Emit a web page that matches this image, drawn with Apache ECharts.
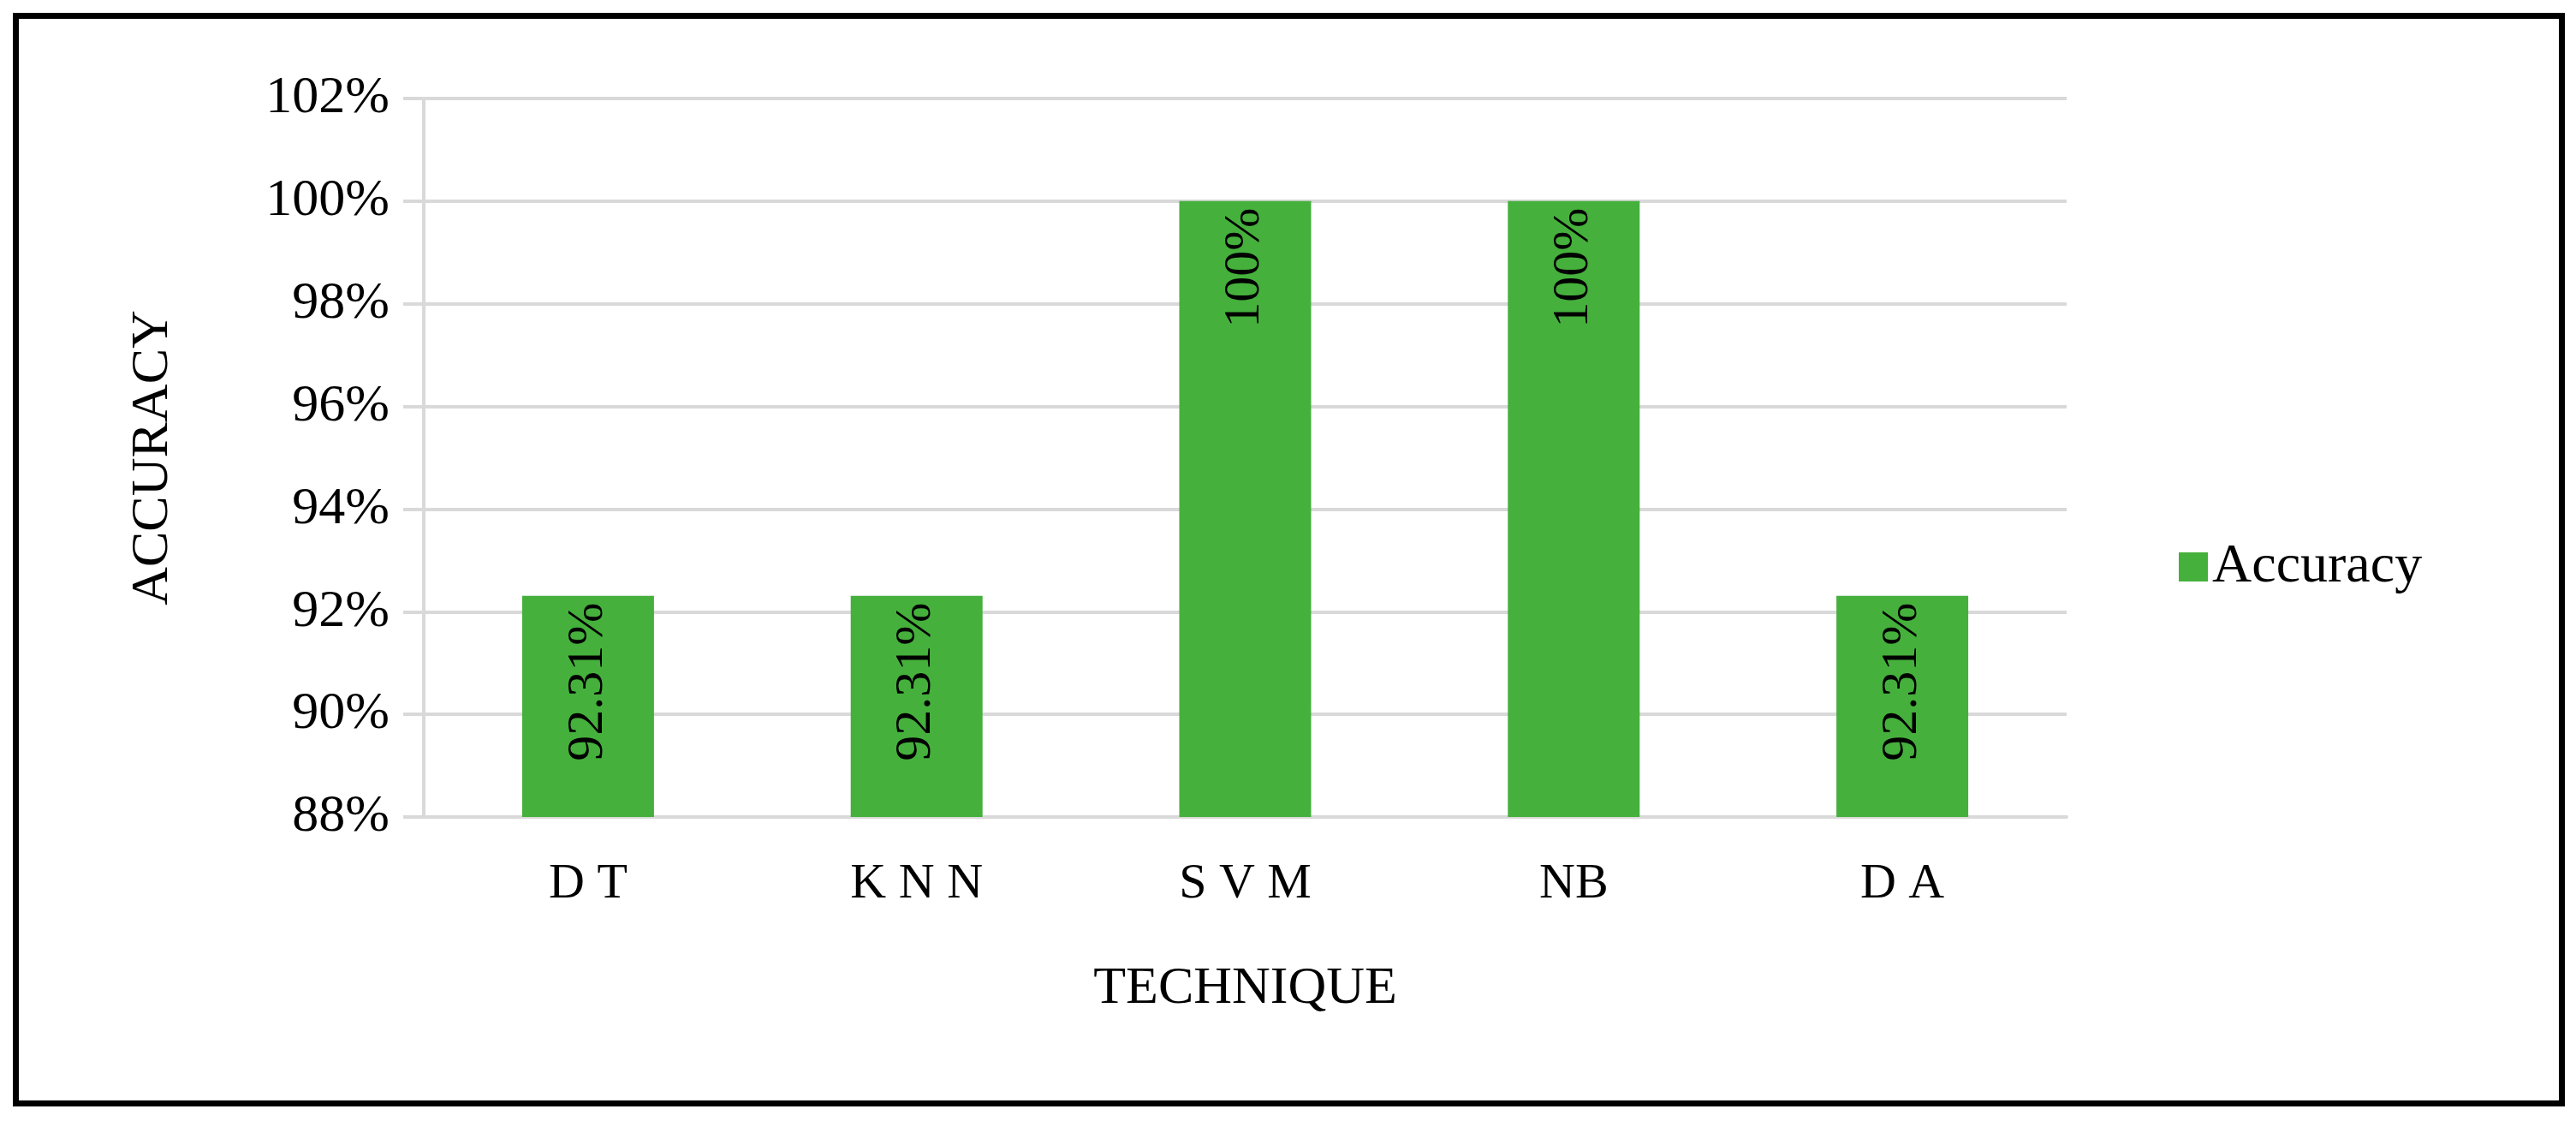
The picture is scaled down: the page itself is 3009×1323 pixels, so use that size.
<!DOCTYPE html>
<html>
<head>
<meta charset="utf-8">
<script src="https://cdn.jsdelivr.net/npm/echarts@6/dist/echarts.min.js"></script>
<style>
  html, body { margin: 0; padding: 0; background: #fff; }
  #frame { position: absolute; left: 15px; top: 15px; width: 2967px; height: 1263px; border: 7px solid #000; }
  #chart { position: absolute; left: 0; top: 0; width: 3009px; height: 1323px; }
</style>
</head>
<body>
<div id="frame"></div>
<div id="chart"></div>
<script>
const categories = ['D T', 'K N N', 'S V M', 'NB', 'D A'];
const accuracy = [92.31, 92.31, 100, 100, 92.31];
const yTicks = [88, 90, 92, 94, 96, 98, 100, 102];

const font = '"Liberation Serif", "DejaVu Serif", serif';
const chart = echarts.init(document.getElementById('chart'));

chart.setOption({
  animation: false,
  textStyle: { fontFamily: font },
  grid: { left: 495, right: 595, top: 115, bottom: 369 },
  legend: {
    data: ['Accuracy'],
    left: 2540, top: 625,
    itemWidth: 34, itemHeight: 34, itemGap: 10,
    icon: 'rect',
    textStyle: { fontFamily: font, fontSize: 64, color: '#000' }
  },
  xAxis: {
    type: 'category',
    data: categories,
    name: 'TECHNIQUE',
    nameLocation: 'middle',
    nameGap: 170,
    nameTextStyle: { fontFamily: font, fontSize: 62, color: '#000' },
    axisLine: { lineStyle: { color: '#d9d9d9', width: 4 } },
    axisTick: { show: false },
    axisLabel: { fontFamily: font, fontSize: 58, color: '#000', margin: 50 }
  },
  yAxis: {
    type: 'value',
    min: yTicks[0],
    max: yTicks[yTicks.length - 1],
    interval: 2,
    name: 'ACCURACY',
    nameLocation: 'middle',
    nameGap: 285,
    nameTextStyle: { fontFamily: font, fontSize: 62, color: '#000' },
    axisLine: { show: true, lineStyle: { color: '#d9d9d9', width: 4 } },
    axisTick: { show: true, length: 24, lineStyle: { color: '#d9d9d9', width: 4 } },
    splitLine: { lineStyle: { color: '#d9d9d9', width: 4 } },
    axisLabel: { fontFamily: font, fontSize: 62, color: '#000', margin: 40, formatter: '{value}%' }
  },
  series: [{
    name: 'Accuracy',
    type: 'bar',
    data: accuracy,
    barWidth: 154,
    itemStyle: { color: '#45b03c' },
    label: {
      show: true,
      position: 'insideTop',
      rotate: 90,
      align: 'right',
      verticalAlign: 'middle',
      distance: 8,
      fontFamily: font,
      fontSize: 60,
      color: '#000',
      formatter: p => p.value + '%'
    }
  }]
});
</script>
</body>
</html>
